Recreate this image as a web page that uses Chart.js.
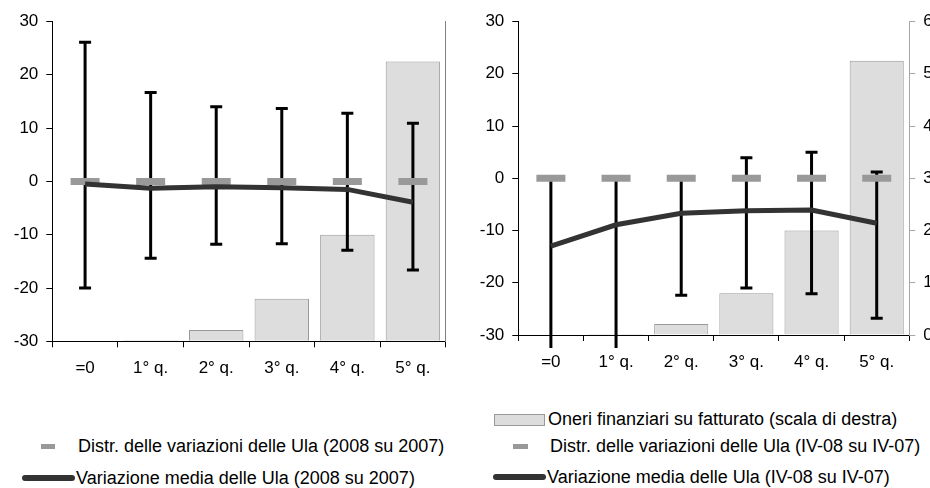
<!DOCTYPE html>
<html>
<head>
<meta charset="utf-8">
<script src="https://cdn.jsdelivr.net/npm/chart.js@4.4.1/dist/chart.umd.min.js"></script>
<style>
  html, body { margin:0; padding:0; background:#fff; }
  body { width:930px; height:488px; overflow:hidden; position:relative; font-family:"Liberation Sans", Arial, sans-serif; }
  #c1 { position:absolute; left:0; top:0; }
  #c2 { position:absolute; left:470px; top:0; }
  .leg { position:absolute; font-size:18px; line-height:22px; color:#000; white-space:nowrap; transform-origin:left center; }
  .sym { position:absolute; }
</style>
</head>
<body>
<canvas id="c1" width="470" height="400"></canvas>
<canvas id="c2" width="480" height="400"></canvas>

<div class="sym" style="left:41px;top:444px;width:14px;height:5px;background:#999;"></div>
<div class="leg" style="left:78px;top:435px;">Distr. delle variazioni delle Ula (2008 su 2007)</div>
<div class="sym" style="left:22px;top:475px;width:53px;height:6px;background:#333;border-radius:3px;"></div>
<div class="leg" style="left:76px;top:467px;">Variazione media delle Ula (2008 su 2007)</div>

<div class="sym" style="left:494px;top:414px;width:49px;height:10px;background:#ddd;border:1px solid #999;"></div>
<div class="leg" style="left:548px;top:408px;">Oneri finanziari su fatturato (scala di destra)</div>
<div class="sym" style="left:513px;top:444px;width:15px;height:5px;background:#999;"></div>
<div class="leg" style="left:550px;top:435px;">Distr. delle variazioni delle Ula (IV-08 su IV-07)</div>
<div class="sym" style="left:493px;top:474px;width:53px;height:6px;background:#333;border-radius:3px;"></div>
<div class="leg" style="left:547px;top:466px;">Variazione media delle Ula (IV-08 su IV-07)</div>

<script>
// categorie (classi di oneri finanziari)
const categories = ['=0', '1° q.', '2° q.', '3° q.', '4° q.', '5° q.'];
// oneri finanziari su fatturato (scala di destra, 0-6)
const oneri = [0, 0.02, 0.21, 0.8, 2.0, 5.25];

// 2008 su 2007
const distr2008 = [0, 0, 0, 0, 0, 0];
const media2008 = [-0.5, -1.3, -1.0, -1.2, -1.5, -3.9];
const low2008 = [-20, -14.4, -11.8, -11.7, -12.9, -16.6];
const high2008 = [26.1, 16.7, 14.0, 13.7, 12.8, 10.9];

// IV-08 su IV-07
const distrIV = [0, 0, 0, 0, 0, 0];
const mediaIV = [-13.0, -8.9, -6.7, -6.2, -6.1, -8.6];
const lowIV = [-32.5, -32.5, -22.4, -21.0, -22.1, -26.8];
const highIV = [0, 0, 0, 3.9, 5.0, 1.2];

const leftTicks = [-30, -20, -10, 0, 10, 20, 30];
const rightTicks = [0, 1, 2, 3, 4, 5, 6];

const FONT = { family: '"Liberation Sans", Arial, sans-serif', size: 17 };

// whiskers drawn right after the bars
const errorBars = {
  id: 'errorBars',
  afterDatasetDraw(chart, args, opts) {
    if (args.index !== 0) return;
    const xs = chart.scales.x, ys = chart.scales.y, ctx = chart.ctx;
    ctx.save();
    ctx.strokeStyle = '#000';
    ctx.lineWidth = 3;
    opts.low.forEach((lo, i) => {
      const hi = opts.high[i];
      const px = xs.getPixelForValue(i);
      const pLo = ys.getPixelForValue(lo);
      const pHi = ys.getPixelForValue(hi);
      ctx.beginPath();
      ctx.moveTo(px, pHi);
      ctx.lineTo(px, pLo);
      [[lo, pLo], [hi, pHi]].forEach(([v, p]) => {
        if (v >= ys.min && v <= ys.max) {
          ctx.moveTo(px - 6, p);
          ctx.lineTo(px + 6, p);
        }
      });
      ctx.stroke();
    });
    ctx.restore();
  }
};

function makeChart(id, distr, media, low, high, o) {
  return new Chart(document.getElementById(id), {
    type: 'bar',
    data: {
      labels: categories,
      datasets: [
        { type: 'bar', data: oneri, yAxisID: 'y2', order: 3,
          backgroundColor: '#dddddd', borderColor: '#999999', borderWidth: 1,
          barPercentage: 1, categoryPercentage: 0.83 },
        { type: 'line', data: distr, yAxisID: 'y', order: 2, showLine: false,
          pointStyle: 'line', pointRadius: 14.5, pointBorderWidth: 7,
          pointBorderColor: '#999999', pointBackgroundColor: '#999999' },
        { type: 'line', data: media, yAxisID: 'y', order: 1,
          borderColor: '#333333', borderWidth: 5, pointRadius: 0, tension: 0, fill: false }
      ]
    },
    options: {
      responsive: false,
      animation: false,
      events: [],
      layout: { padding: { top: o.top, left: 0, right: 0, bottom: 0 } },
      plugins: {
        legend: { display: false },
        tooltip: { enabled: false },
        errorBars: { low: low, high: high }
      },
      scales: {
        x: {
          offset: true,
          grid: { offset: true, drawOnChartArea: false, tickLength: 6, color: '#000' },
          border: { color: '#000' },
          ticks: { color: '#000', font: FONT, padding: o.labelPad, maxRotation: 0, autoSkip: false },
          afterFit(s) { s.height = o.bottomH; }
        },
        y: {
          position: 'left', min: -30, max: 30,
          afterBuildTicks(s) { s.ticks = leftTicks.map(v => ({ value: v })); },
          ticks: { color: '#000', font: FONT, padding: 8 },
          grid: { drawOnChartArea: false, tickLength: 6, color: '#000' },
          border: { color: '#000' },
          afterFit(s) { s.width = o.leftW; }
        },
        y2: {
          position: 'right', min: 0, max: 6,
          afterBuildTicks(s) { s.ticks = rightTicks.map(v => ({ value: v })); },
          ticks: { display: o.rightLabels, color: '#000', font: FONT, padding: 8 },
          grid: { drawOnChartArea: false, drawTicks: o.rightLabels, tickLength: 6, color: '#a6a6a6' },
          border: { color: o.rightLabels ? '#a6a6a6' : '#808080' },
          afterFit(s) { s.width = o.rightW; }
        }
      }
    },
    plugins: [errorBars]
  });
}

makeChart('c1', distr2008, media2008, low2008, high2008,
  { top: 21, leftW: 52.3, rightW: 24.3, bottomH: 58.7, labelPad: 11, rightLabels: false });
makeChart('c2', distrIV, mediaIV, lowIV, highIV,
  { top: 19.3, leftW: 48.3, rightW: 40.7, bottomH: 65, labelPad: 11, rightLabels: true });
</script>
</body>
</html>
